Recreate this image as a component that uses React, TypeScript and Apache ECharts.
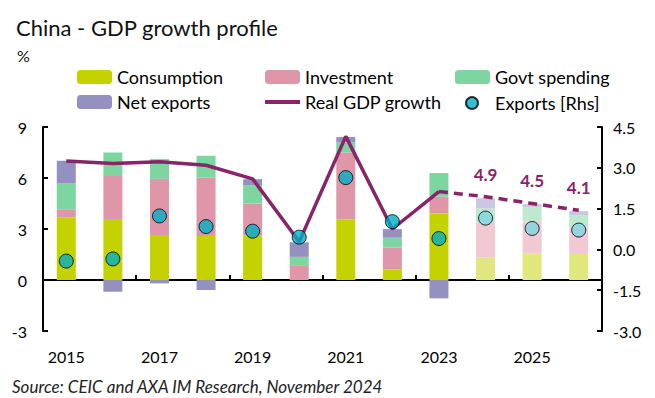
import React, { useEffect, useRef } from "react";
import * as echarts from "echarts";

const years = ["2015", "2016", "2017", "2018", "2019", "2020", "2021", "2022", "2023", "2024", "2025", "2026"];
const firstForecastIndex = 9;
const consumption = [3.69, 3.59, 2.65, 2.59, 2.61, 0, 3.58, 0.63, 3.93, 1.32, 1.57, 1.53];
const investment = [0.47, 2.58, 3.3, 3.44, 1.89, 0.83, 3.92, 1.28, 0.98, 2.08, 1.87, 1.55];
const govtSpending = [1.52, 1.33, 1.16, 1.28, 1.08, 0.53, 0.59, 0.58, 1.38, 0.8, 0.82, 0.71];
const netExports = [1.33, -0.69, -0.2, -0.59, 0.35, 0.86, 0.32, 0.5, -1.08, 0.61, 0.2, 0.26];
const gdpGrowth = [7.0, 6.85, 6.95, 6.75, 5.95, 2.25, 8.45, 3.0, 5.2, 4.9, 4.5, 4.1];
const exportsRhs = [-0.43, -0.35, 1.23, 0.84, 0.67, 0.45, 2.64, 1.02, 0.4, 1.15, 0.77, 0.71];
const leftTicks = { min: -3, max: 9, interval: 3 };
const rightTicks = { min: -3, max: 4.5, interval: 1.5 };

const FONT = "Lato";
const INK = "#000000";

export default function App() {
  const ref = useRef<HTMLDivElement>(null);
  useEffect(() => {
    if (!ref.current) return;
    const chart = echarts.init(ref.current, null, { renderer: "svg" });

    const isF = (i: number) => i >= firstForecastIndex;
    const mkBar = (name: string, values: number[], color: string, light: string) => ({
      name,
      type: "bar",
      stack: "gdp",
      barWidth: 19,
      xAxisIndex: 0,
      yAxisIndex: 0,
      itemStyle: { color },
      data: values.map((v, i) => ({ value: v, itemStyle: { color: isF(i) ? light : color } })),
    });

    const lineColor = "#8a2468";
    const dotColor = "#00aec6";
    const dotLight = "#80d6e2";

    const legendBase = {
      itemWidth: 35,
      itemHeight: 14,
      padding: 0,
      textStyle: { fontFamily: FONT, fontSize: 18, color: INK },
    };
    const mkLegend = (name: any, left: number, top: number, extra: any = {}) => ({
      ...legendBase,
      data: [name],
      left,
      top,
      ...extra,
    });

    chart.setOption({
      animation: false,
      textStyle: { fontFamily: FONT },
      grid: { left: 43, right: 53, top: 127, bottom: 67 },
      legend: [
        mkLegend("Consumption", 77, 68),
        mkLegend("Investment", 265, 68),
        mkLegend("Govt spending", 455, 68),
        mkLegend("Net exports", 77, 93),
        mkLegend({ name: "Real GDP growth", icon: "rect" }, 265, 93, {
          itemHeight: 4,
          textStyle: { fontFamily: FONT, fontSize: 18, color: INK, padding: [0, 0, 0, 0] },
        }),
        mkLegend("Exports [Rhs]", 465, 94, {
          itemWidth: 12,
          itemHeight: 12,
          textStyle: { fontFamily: FONT, fontSize: 18, color: INK, padding: [0, 0, 0, 12] },
        }),
      ],
      graphic: [
        { type: "text", left: 16, top: 16, style: { text: "China - GDP growth profile", fontFamily: FONT, fontSize: 22, fill: "#111" } },
        { type: "text", left: 17, top: 47, style: { text: "%", fontFamily: FONT, fontSize: 16, fill: "#111" } },
        { type: "text", left: 12, top: 378, style: { text: "Source: CEIC and AXA IM Research, November 2024", fontFamily: FONT, fontSize: 17, fontStyle: "italic", fill: "#222" } },
      ],
      xAxis: [
        {
          type: "category",
          data: years,
          axisLine: { onZero: true, lineStyle: { color: INK, width: 2 } },
          axisTick: { show: true, inside: true, interval: 1, length: 5, lineStyle: { color: INK, width: 2 } },
          axisLabel: { show: false },
        },
        {
          type: "category",
          data: years,
          position: "bottom",
          axisLine: { show: false, onZero: false },
          axisTick: { show: false },
          axisLabel: { interval: 1, margin: 17, fontFamily: FONT, fontSize: 16, color: INK },
        },
      ],
      yAxis: [
        {
          type: "value",
          ...leftTicks,
          axisLine: { show: true, lineStyle: { color: INK, width: 2 } },
          axisTick: { show: true, inside: true, length: 5, lineStyle: { color: INK, width: 2 } },
          splitLine: { show: false },
          axisLabel: { margin: 16, fontFamily: FONT, fontSize: 16, color: INK },
        },
        {
          type: "value",
          position: "right",
          ...rightTicks,
          axisLine: { show: true, lineStyle: { color: INK, width: 2 } },
          axisTick: { show: true, inside: true, length: 5, lineStyle: { color: INK, width: 2 } },
          splitLine: { show: false },
          axisLabel: { margin: 11, fontFamily: FONT, fontSize: 16, color: INK, formatter: (v: number) => v.toFixed(1) },
        },
      ],
      series: [
        mkBar("Consumption", consumption, "#c4d300", "#e0e77d"),
        mkBar("Investment", investment, "#e096a9", "#f0c9d3"),
        mkBar("Govt spending", govtSpending, "#7dd5a0", "#bdeacf"),
        mkBar("Net exports", netExports, "#9490bf", "#cac7e0"),
        {
          name: "Real GDP growth",
          type: "line",
          symbol: "none",
          z: 5,
          lineStyle: { color: lineColor, width: 3.5 },
          itemStyle: { color: lineColor },
          data: gdpGrowth.map((v, i) => (i < firstForecastIndex ? v : "-")),
        },
        {
          name: "Real GDP forecast",
          type: "line",
          symbol: "circle",
          symbolSize: 0.1,
          showSymbol: true,
          z: 5,
          lineStyle: { color: lineColor, width: 3.5, type: [9, 6] },
          itemStyle: { color: lineColor },
          label: {
            show: true,
            position: "top",
            distance: 14,
            color: lineColor,
            fontFamily: FONT,
            fontSize: 17,
            fontWeight: "bold",
            formatter: (p: any) => (p.dataIndex >= firstForecastIndex ? Number(p.value).toFixed(1) : ""),
          },
          data: gdpGrowth.map((v, i) => (i >= firstForecastIndex - 1 ? v : "-")),
        },
        {
          name: "Exports [Rhs]",
          type: "scatter",
          yAxisIndex: 1,
          symbol: "circle",
          symbolSize: 14,
          z: 10,
          itemStyle: { color: dotColor, borderColor: "#000", borderWidth: 1 },
          data: exportsRhs.map((v, i) => ({ value: v, itemStyle: { color: isF(i) ? dotLight : dotColor } })),
        },
      ],
    });
    return () => chart.dispose();
  }, []);
  return <div ref={ref} style={{ width: 655, height: 398, position: "absolute", left: 0, top: 0 }} />;
}
